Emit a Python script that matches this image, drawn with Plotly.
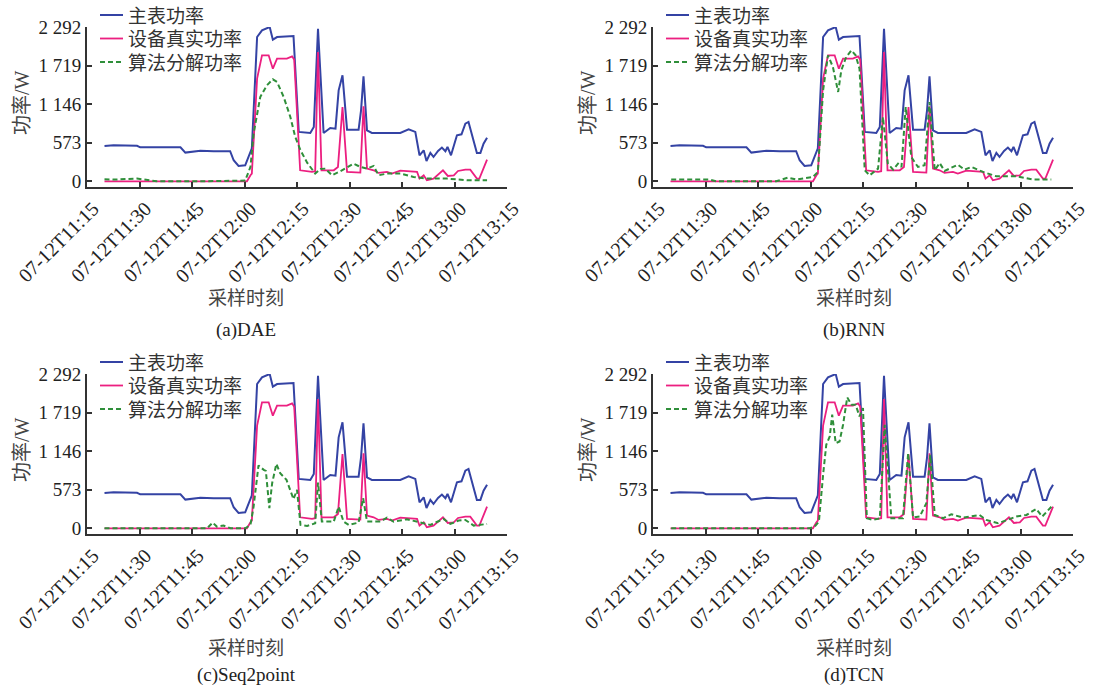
import plotly.graph_objects as go

DAY = "2023-07-12 "

# 主表功率 (main meter power), shared by all four panels
main_t = ["11:20:00", "11:22:36", "11:29:18", "11:30:12", "11:41:42", "11:43:06", "11:47:24",
          "11:51:12", "11:55:54", "11:56:54", "11:58:18", "12:00:12", "12:02:06", "12:03:36",
          "12:05:00", "12:06:24", "12:07:12", "12:08:06", "12:09:18", "12:14:00", "12:15:30",
          "12:18:48", "12:19:48", "12:21:00", "12:22:36", "12:24:30", "12:26:00", "12:26:54",
          "12:28:00", "12:29:18", "12:32:36", "12:33:18", "12:34:00", "12:35:00", "12:36:24",
          "12:44:30", "12:46:54", "12:48:48", "12:50:00", "12:51:12", "12:52:00", "12:53:06",
          "12:54:00", "12:55:18", "12:56:24", "12:57:24", "12:58:00", "12:59:00", "13:00:42",
          "13:02:00", "13:03:06", "13:04:00", "13:06:24", "13:07:24", "13:08:18", "13:09:18"]
main_w = [525, 535, 528, 505, 505, 426, 455,
          446, 446, 312, 228, 238, 490, 2143,
          2242, 2267, 2292, 2104, 2143, 2158, 733,
          718, 807, 2267, 718, 792, 782, 1351,
          1574, 767, 767, 1054, 1559, 757, 718,
          718, 772, 733, 386, 460, 302, 421,
          361, 450, 500, 446, 510, 386, 683,
          698, 856, 881, 421, 421, 559, 648]

# 设备真实功率 (true appliance power), shared by all four panels
true_t = ["11:20:00", "12:00:42", "12:01:42", "12:02:06", "12:03:36", "12:05:00", "12:06:54",
          "12:08:06", "12:09:18", "12:12:06", "12:13:36", "12:14:12", "12:15:54", "12:19:18",
          "12:20:12", "12:21:00", "12:22:00", "12:25:30", "12:26:42", "12:28:00", "12:29:18",
          "12:33:06", "12:34:00", "12:35:00", "12:36:54", "12:38:18", "12:40:42", "12:42:06",
          "12:44:30", "12:47:24", "12:49:18", "12:50:00", "12:51:12", "12:52:06", "12:54:00",
          "12:56:42", "12:58:06", "12:59:48", "13:01:00", "13:03:06", "13:04:30", "13:06:24",
          "13:07:06", "13:09:18"]
true_w = [0, 0, 89, 114, 1525, 1871, 1871,
          1673, 1822, 1822, 1856, 1807, 163, 139,
          149, 1921, 163, 163, 213, 1104, 139,
          129, 1114, 188, 163, 124, 139, 114,
          158, 149, 139, 40, 89, 15, 40,
          163, 79, 89, 153, 173, 173, 40,
          40, 322]

# 算法分解功率 (disaggregated power) for each model
dae_t = ["11:20:00", "11:22:36", "11:29:18", "11:35:00", "11:47:24", "12:00:12", "12:01:42",
         "12:02:36", "12:04:30", "12:06:24", "12:08:06", "12:09:18", "12:11:12", "12:13:06",
         "12:14:30", "12:16:00", "12:17:54", "12:20:12", "12:21:42", "12:23:06", "12:25:00",
         "12:27:24", "12:31:12", "12:33:06", "12:35:00", "12:36:54", "12:38:18", "12:40:42",
         "12:44:30", "12:48:18", "12:52:06", "12:57:54", "13:03:36", "13:09:18"]
dae_w = [30, 25, 40, 0, 0, 10, 213,
         708, 1252, 1426, 1515, 1475, 1252, 955,
         658, 460, 277, 114, 183, 188, 89,
         149, 262, 213, 188, 228, 89, 114,
         114, 64, 40, 40, 15, 15]

rnn_t = ["11:20:12", "11:31:12", "11:33:06", "11:50:12", "11:53:36", "11:56:00", "11:57:54",
         "12:00:42", "12:02:06", "12:03:36", "12:05:00", "12:06:24", "12:07:54", "12:08:48",
         "12:10:12", "12:11:42", "12:12:54", "12:14:00", "12:15:30", "12:16:54", "12:19:18",
         "12:20:42", "12:22:06", "12:23:36", "12:25:00", "12:26:00", "12:27:12", "12:28:48",
         "12:30:42", "12:32:36", "12:34:00", "12:35:30", "12:36:54", "12:38:18", "12:42:06",
         "12:44:00", "12:46:00", "12:49:18", "12:53:06", "12:58:48", "13:03:36", "13:08:48"]
rnn_w = [25, 25, 0, 0, 54, 25, 40,
         64, 139, 1351, 1871, 1698, 1327, 1648,
         1846, 1945, 1871, 1673, 163, 89, 188,
         955, 262, 173, 262, 213, 1104, 361,
         213, 238, 1178, 163, 272, 153, 247,
         173, 213, 139, 74, 74, 25, 25]

s2p_t = ["11:20:00", "11:49:18", "11:50:54", "11:52:06", "11:54:00", "11:56:00", "12:00:12",
         "12:01:42", "12:02:36", "12:04:00", "12:05:30", "12:06:06", "12:07:06", "12:07:54",
         "12:09:06", "12:10:12", "12:12:00", "12:13:06", "12:14:00", "12:15:00", "12:16:00",
         "12:17:54", "12:20:12", "12:21:00", "12:22:06", "12:25:30", "12:26:54", "12:28:18",
         "12:29:48", "12:32:36", "12:33:54", "12:35:00", "12:38:48", "12:40:42", "12:42:36",
         "12:46:24", "12:49:18", "12:50:42", "12:53:06", "12:56:54", "12:58:48", "13:01:12",
         "13:03:06", "13:05:30", "13:07:24", "13:09:18"]
s2p_w = [0, 0, 84, 25, 40, 0, 0,
         50, 322, 933, 868, 853, 298, 670,
         957, 819, 719, 546, 432, 571, 50,
         35, 74, 680, 99, 99, 322, 99,
         50, 84, 446, 99, 99, 159, 99,
         134, 99, 74, 50, 139, 64, 114,
         124, 40, 50, 64]

tcn_t = ["11:20:12", "11:59:48", "12:01:12", "12:02:24", "12:03:36", "12:04:30", "12:05:30",
         "12:06:12", "12:07:12", "12:08:18", "12:09:18", "12:10:30", "12:11:42", "12:12:54",
         "12:14:00", "12:15:00", "12:16:06", "12:17:54", "12:19:48", "12:21:12", "12:23:06",
         "12:26:24", "12:27:54", "12:29:18", "12:31:12", "12:33:06", "12:34:12", "12:35:30",
         "12:37:54", "12:40:12", "12:43:36", "12:48:18", "12:50:12", "12:53:36", "12:58:48",
         "13:01:42", "13:04:30", "13:06:12", "13:09:18"]
tcn_w = [0, 0, 25, 99, 794, 1240, 1364,
         1687, 1265, 1290, 1538, 1945, 1836, 1836,
         1662, 1786, 149, 124, 149, 1538, 149,
         149, 1116, 159, 174, 372, 1091, 198,
         149, 208, 159, 198, 124, 74, 174,
         198, 288, 174, 347]

panel_names = ["(a)DAE", "(b)RNN", "(c)Seq2point", "(d)TCN"]
predicted = [(dae_t, dae_w), (rnn_t, rnn_w), (s2p_t, s2p_w), (tcn_t, tcn_w)]

tick_times = ["11:15", "11:30", "11:45", "12:00", "12:15", "12:30", "12:45", "13:00", "13:15"]
tick_text = ["07-12T" + t for t in tick_times]
y_vals = [0, 573, 1146, 1719, 2292]
y_text = ["0", "573", "1 146", "1 719", "2 292"]

series_names = ["主表功率", "设备真实功率", "算法分解功率"]
C_MAIN, C_TRUE, C_PRED = "#3443a4", "#ec1f80", "#2f8f3a"
PRED_DASH = "5px,3px"
FONT = "Liberation Serif, Noto Sans CJK SC, serif"
AX_COLOR = "#333333"

W, H = 1093, 691
# pixel geometry of each panel: (left, right, top, bottom)
boxes = [(87, 507, 27, 187), (653, 1073, 27, 187), (87, 507, 374, 534), (653, 1073, 374, 534)]


def ts(times):
    return [DAY + t for t in times]


def px(x):
    return x / W


def py(y):
    return 1 - y / H


fig = go.Figure()
layout = dict(width=W, height=H, margin=dict(l=0, r=0, t=0, b=0, autoexpand=False),
              paper_bgcolor="white", plot_bgcolor="white", showlegend=False,
              font=dict(family=FONT, size=19, color="#222222"))
annotations = []
shapes = []
styles = [dict(color=C_MAIN, width=2), dict(color=C_TRUE, width=1.8),
          dict(color=C_PRED, width=2, dash=PRED_DASH)]

for i, (left, right, top, bottom) in enumerate(boxes):
    n = i + 1
    xa = "x" if n == 1 else f"x{n}"
    ya = "y" if n == 1 else f"y{n}"
    pt, pw = predicted[i]
    for (tt, ww), name, st in zip([(main_t, main_w), (true_t, true_w), (pt, pw)],
                                  series_names, styles):
        fig.add_trace(go.Scatter(x=ts(tt), y=ww, mode="lines", name=name, line=st,
                                 xaxis=xa, yaxis=ya))

    xkey = "xaxis" if n == 1 else f"xaxis{n}"
    ykey = "yaxis" if n == 1 else f"yaxis{n}"
    layout[xkey] = dict(
        domain=[px(left), px(right)], anchor=ya, type="date", automargin=False,
        range=[DAY + "11:15", DAY + "13:15"],
        tickmode="array", tickvals=ts(tick_times), ticktext=tick_text, tickangle=-45,
        ticklabelshift=6,
        ticks="inside", ticklen=5, tickwidth=1.5, tickcolor=AX_COLOR,
        showline=True, linewidth=2, linecolor=AX_COLOR, showgrid=False, zeroline=False,
        tickfont=dict(family=FONT, size=20, color="#222222"), fixedrange=True)
    layout[ykey] = dict(
        domain=[py(bottom), py(top)], anchor=xa, range=[-85, 2292], automargin=False,
        tickmode="array", tickvals=y_vals, ticktext=y_text,
        ticks="inside", ticklen=5, tickwidth=1.5, tickcolor=AX_COLOR,
        showline=True, linewidth=2, linecolor=AX_COLOR, showgrid=False, zeroline=False,
        tickfont=dict(family=FONT, size=19, color="#222222"), fixedrange=True)

    # legend: line samples and labels in the upper-left corner of the panel
    for k, (name, st) in enumerate(zip(series_names, styles)):
        row_y = top - 12 + 23.5 * k
        shapes.append(dict(type="line", xref="paper", yref="paper",
                           x0=px(left + 13), x1=px(left + 36), y0=py(row_y), y1=py(row_y),
                           line=st))
        annotations.append(dict(text=name, x=px(left + 39), y=py(row_y + 1), xref="paper",
                                yref="paper", xanchor="left", yanchor="middle", showarrow=False,
                                font=dict(family=FONT, size=19, color="#333333")))

    cx = 246 if i % 2 == 0 else 854
    title_y = 298 if i < 2 else 648
    cap_y = 330 if i < 2 else 675
    centred = dict(xref="paper", yref="paper", xanchor="center", yanchor="middle",
                   showarrow=False)
    annotations.append(dict(text="功率/W", x=px(left - 65), y=py((top + bottom) / 2 - 4),
                            textangle=-90, font=dict(family=FONT, size=20, color="#444444"),
                            **centred))
    annotations.append(dict(text="采样时刻", x=px(cx), y=py(title_y),
                            font=dict(family=FONT, size=19, color="#444444"), **centred))
    annotations.append(dict(text=panel_names[i], x=px(cx), y=py(cap_y),
                            font=dict(family=FONT, size=19, color="#222222"), **centred))

layout["annotations"] = annotations
layout["shapes"] = shapes
fig.update_layout(**layout)
fig.write_html("out.html")
